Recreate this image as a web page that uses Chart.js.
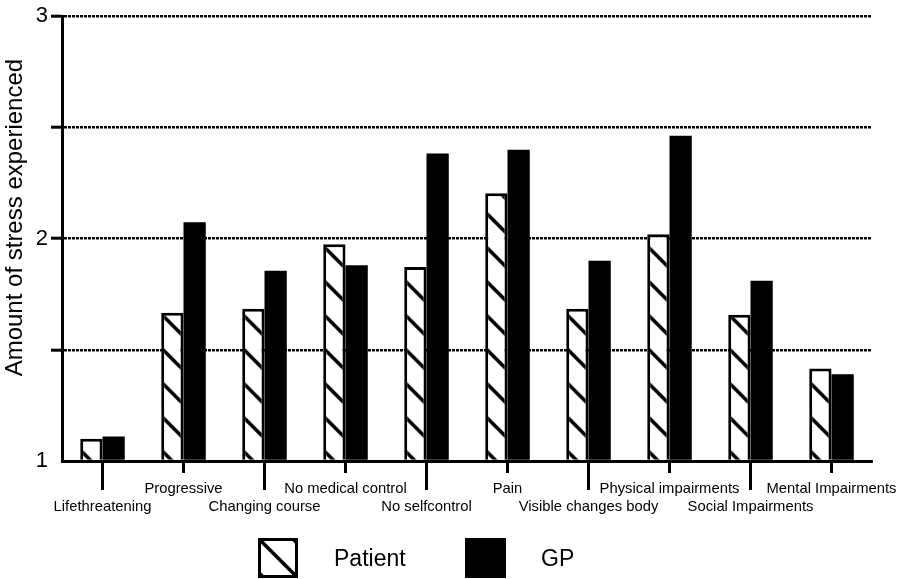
<!DOCTYPE html>
<html>
<head>
<meta charset="utf-8">
<script src="https://cdn.jsdelivr.net/npm/chart.js@4/dist/chart.umd.min.js"></script>
<style>
html,body{margin:0;padding:0;background:#fff;}
#wrap{width:907px;height:579px;}
</style>
</head>
<body>
<div id="wrap"><canvas id="c" width="907" height="579"></canvas></div>
<script>
// ---- data ----
const categories = ['Lifethreatening','Progressive','Changing course','No medical control','No selfcontrol','Pain','Visible changes body','Physical impairments','Social Impairments','Mental Impairments'];
const patientValues = [1.10, 1.667, 1.685, 1.975, 1.872, 2.204, 1.685, 2.02, 1.658, 1.416];
const gpValues      = [1.11, 2.074, 1.855, 1.88, 2.383, 2.40, 1.90, 2.463, 1.81, 1.39];
const seriesNames = ['Patient', 'GP'];
const yLabelledTicks = [1, 2, 3];
const yTitle = 'Amount of stress experienced';

const FONT = '"Liberation Sans", Arial, sans-serif';
const CAT_PCT = 0.55;
const STRIPE = 34;

function makeHatch(ox, oy) {
  const t = document.createElement('canvas');
  t.width = STRIPE; t.height = STRIPE;
  const g = t.getContext('2d');
  g.fillStyle = '#fff'; g.fillRect(0, 0, STRIPE, STRIPE);
  g.strokeStyle = '#000'; g.lineWidth = 3.6;
  for (const k of [-STRIPE, 0, STRIPE]) {
    g.beginPath();
    g.moveTo(k - STRIPE, -STRIPE);
    g.lineTo(k + 2 * STRIPE, 2 * STRIPE);
    g.stroke();
  }
  const p = g.createPattern(t, 'repeat');
  p.setTransform(new DOMMatrix().translate(ox, oy));
  return p;
}

function patientFill(ctx) {
  const chart = ctx.chart;
  const xs = chart.scales.x, ys = chart.scales.y;
  if (!xs || !ys || ctx.dataIndex === undefined) return '#fff';
  const center = xs.getPixelForValue(ctx.dataIndex);
  const catW = xs.width / categories.length;
  const left = center - catW * CAT_PCT / 2;
  const bottom = ys.getPixelForValue(1);
  return makeHatch(left, bottom - 11);
}

const extras = {
  id: 'extras',
  afterDraw(chart) {
    const {ctx, chartArea, scales: {x}} = chart;
    ctx.save();
    // x tick marks: alternating long / short
    ctx.strokeStyle = '#000';
    ctx.lineWidth = 3;
    x.ticks.forEach((t, i) => {
      const px = x.getPixelForTick(i);
      const len = i % 2 === 0 ? 29 : 12;
      ctx.beginPath();
      ctx.moveTo(px, chartArea.bottom);
      ctx.lineTo(px, chartArea.bottom + len);
      ctx.stroke();
    });
    // y axis title (placed slightly above the axis centre, as in the original)
    ctx.save();
    ctx.translate(15, (chartArea.top + chartArea.bottom) / 2 - 21);
    ctx.rotate(-Math.PI / 2);
    ctx.font = '24px ' + FONT;
    ctx.fillStyle = '#000';
    ctx.textAlign = 'center';
    ctx.textBaseline = 'middle';
    ctx.fillText(yTitle, 0, 0);
    ctx.restore();
    // legend
    const top = chartArea.bottom + 77;
    const size = 40;
    const b1 = chartArea.left + 196;
    ctx.fillStyle = makeHatch(b1, top);
    ctx.fillRect(b1, top, size, size);
    ctx.lineWidth = 3;
    ctx.strokeStyle = '#000';
    ctx.strokeRect(b1 + 1.5, top + 1.5, size - 3, size - 3);
    const b2 = chartArea.left + 403;
    ctx.fillStyle = '#000';
    ctx.fillRect(b2, top, size + 1, size);
    ctx.font = '23px ' + FONT;
    ctx.textBaseline = 'middle';
    ctx.textAlign = 'left';
    ctx.fillText(seriesNames[0], b1 + size + 36, top + size / 2 + 2);
    ctx.fillText(seriesNames[1], b2 + size + 36, top + size / 2 + 2);
    ctx.restore();
  }
};

new Chart(document.getElementById('c'), {
  type: 'bar',
  data: {
    labels: categories,
    datasets: [
      {
        label: seriesNames[0],
        data: patientValues,
        base: 1,
        backgroundColor: patientFill,
        borderColor: '#000',
        borderWidth: 3,
        borderSkipped: 'start',
        barPercentage: 1,
        categoryPercentage: CAT_PCT
      },
      {
        label: seriesNames[1],
        data: gpValues,
        base: 1,
        backgroundColor: '#000',
        borderWidth: 0,
        barPercentage: 1,
        categoryPercentage: CAT_PCT
      }
    ]
  },
  options: {
    responsive: false,
    animation: false,
    events: [],
    layout: { padding: { top: 14, right: 35, bottom: 0, left: 0 } },
    plugins: {
      legend: { display: false },
      tooltip: { enabled: false }
    },
    scales: {
      x: {
        type: 'category',
        offset: true,
        grid: { display: false, drawTicks: false },
        border: { display: true, color: '#000', width: 3 },
        ticks: {
          autoSkip: false,
          maxRotation: 0,
          minRotation: 0,
          padding: 19,
          color: '#000',
          font: { family: FONT, size: 14.8, lineHeight: 1.22 },
          callback: function (v, i) {
            const lab = categories[i];
            return i % 2 === 0 ? ['', lab] : lab;
          }
        },
        afterFit: function (s) { s.height = 118; s.paddingLeft = 0; s.paddingRight = 0; }
      },
      y: {
        min: 1,
        max: 3,
        grid: {
          color: c => (c.tick && c.tick.value === 1) ? 'rgba(0,0,0,0)' : '#000',
          lineWidth: 2.4,
          drawTicks: true,
          tickLength: 11,
          tickWidth: 3,
          tickColor: c => (c.tick && c.tick.value === 1) ? 'rgba(0,0,0,0)' : '#000'
        },
        border: { display: true, color: '#000', width: 3, dash: [3, 1] },
        ticks: {
          stepSize: 0.5,
          padding: 3,
          color: '#000',
          font: { family: FONT, size: 22 },
          callback: v => yLabelledTicks.includes(v) ? String(v) : ''
        },
        title: { display: false, text: yTitle },
        afterFit: function (s) { s.width = 62; }
      }
    }
  },
  plugins: [extras]
});
</script>
</body>
</html>
